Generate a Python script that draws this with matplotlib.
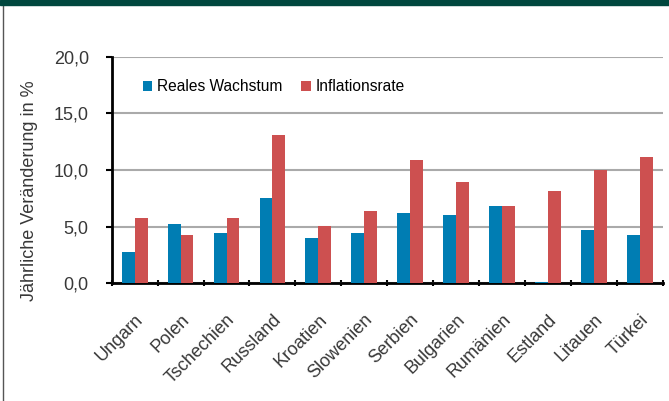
import matplotlib
matplotlib.use("Agg")
import matplotlib.pyplot as plt
import numpy as np

categories = ["Ungarn", "Polen", "Tschechien", "Russland", "Kroatien", "Slowenien",
              "Serbien", "Bulgarien", "Rumänien", "Estland", "Litauen", "Türkei"]
wachstum = [2.8, 5.2, 4.4, 7.5, 4.0, 4.4, 6.2, 6.0, 6.8, 0.1, 4.7, 4.3]
inflation = [5.8, 4.3, 5.8, 13.1, 5.1, 6.4, 10.9, 8.9, 6.8, 8.1, 10.0, 11.1]
yticks = [0, 5, 10, 15, 20]
ytick_labels = ["0,0", "5,0", "10,0", "15,0", "20,0"]
series_names = ["Reales Wachstum", "Inflationsrate"]
ylabel = "Jährliche Veränderung in %"

BLUE = "#007DB3"
RED = "#CD5050"
TXT = "#383838"

plt.rcParams["font.family"] = ["Liberation Sans", "DejaVu Sans"]

fig = plt.figure(figsize=(6.69, 4.01), dpi=100)
ax = fig.add_axes([0.167, 0.2935, 0.8236, 0.5653])

x = np.arange(len(categories))
w = 0.28
ax.bar(x - w / 2, wachstum, width=w, color=BLUE, label=series_names[0], zorder=3)
ax.bar(x + w / 2, inflation, width=w, color=RED, label=series_names[1], zorder=3)

ax.set_xlim(-0.5, len(categories) - 0.5)
ax.set_ylim(0, 20)
ax.set_yticks(yticks)
ax.set_yticklabels(ytick_labels, fontsize=13, color=TXT)
ax.yaxis.grid(True, color="#AAAAAA", linewidth=1.5, zorder=0)
ax.set_axisbelow(True)

ax.set_xticks(x)
ax.set_xticks(np.arange(len(categories) + 1) - 0.5, minor=True)
ax.tick_params(axis="x", which="major", length=0, pad=20)
ax.tick_params(axis="x", which="minor", length=5, width=1.5, direction="inout")
ax.tick_params(axis="y", length=4, width=1.5, direction="out", pad=12.5)
ax.set_xticklabels(categories, rotation=45, ha="right", va="top",
                   rotation_mode="anchor", fontsize=13, color=TXT)

for s in ["top", "right"]:
    ax.spines[s].set_visible(False)
ax.spines["left"].set_linewidth(2)
ax.spines["bottom"].set_linewidth(2)

ax.set_ylabel(ylabel, fontsize=13, color=TXT, va="center")
ax.yaxis.set_label_coords(-0.149, 0.41)

ax.legend(loc="center left", bbox_to_anchor=(0.057, 0.866), ncol=2, frameon=False,
          fontsize=11.2, handlelength=0.6, handleheight=0.6, handletextpad=0.3,
          columnspacing=1.2, borderpad=0, borderaxespad=0)

# decorative frame: dark green top band and left border line
fig.patches.append(plt.Rectangle((0, 1 - 5 / 401), 1, 5 / 401, transform=fig.transFigure,
                                 color="#00473E", zorder=10))
fig.lines.append(plt.Line2D([3 / 669, 3 / 669], [0, 1], transform=fig.transFigure,
                            color="#555555", linewidth=1))

fig.savefig("out.png", dpi=100)
